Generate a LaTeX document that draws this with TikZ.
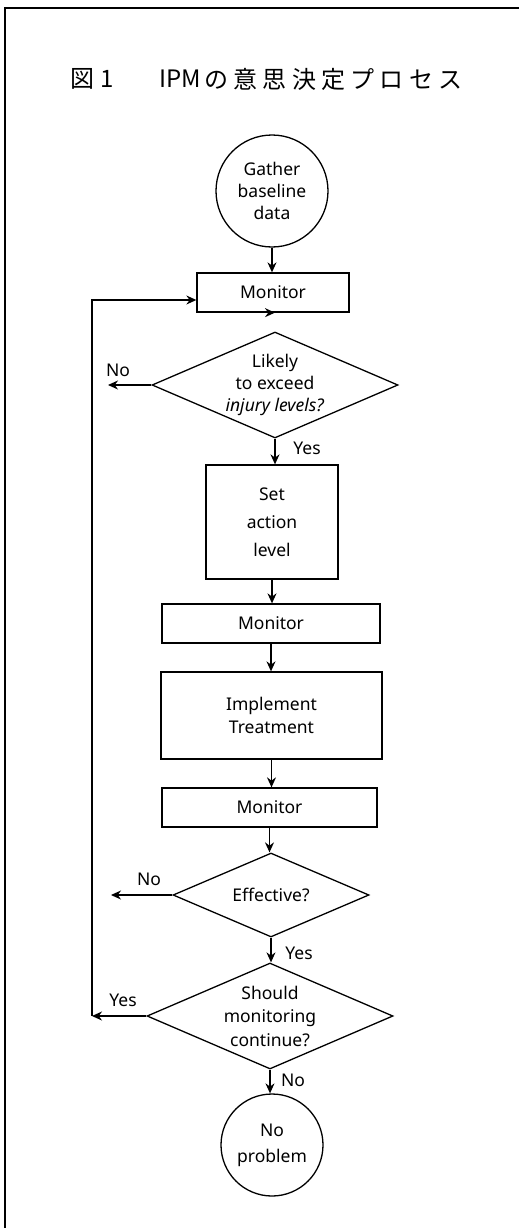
\documentclass[tikz,border=0pt]{standalone}
\usepackage{fontspec}
\setmainfont{Noto Sans}
\newfontfamily\cjk[LetterSpace=22]{Noto Sans CJK JP}
\newfontfamily\cjkplain{Noto Sans CJK JP}
\usetikzlibrary{shapes.geometric,arrows.meta}
\begin{document}
\begin{tikzpicture}[x=1pt,y=-1pt,
  every node/.style={font=\fontsize{17.5}{22}\selectfont},
  box/.style={draw,line width=1.3pt,rectangle,inner sep=0pt,align=center},
  rnd/.style={draw,line width=1.3pt,circle,inner sep=0pt,align=center},
  dia/.style={draw,line width=1.3pt,diamond,inner sep=0pt},
  txt/.style={inner sep=0pt,align=center},
  lab/.style={inner sep=0pt},
  arr/.style={line width=1.3pt,-{Stealth[length=10pt,width=9pt]}},
  ln/.style={line width=1.3pt}]
\useasboundingbox (0,0) rectangle (519,1228);
% frame
\draw[line width=1.3pt] (5,1228) -- (5,8) -- (519,8);
% title
\node[lab,anchor=west,font=\cjkplain\fontsize{24}{28}\selectfont] (t1) at (70,79) {図\hspace{6pt}1};
\node[lab,anchor=west,font=\cjkplain\fontsize{24}{28}\selectfont] (t2) at (159,79) {IPM};
\node[lab,anchor=west,font=\cjk\fontsize{24}{28}\selectfont] (t3) at (t2.east) {\hspace{3pt}の意思決定プロセス};
% nodes
\node[rnd,minimum size=112pt] (g) at (272,191) {Gather\\baseline\\data};
\node[box,minimum width=152pt,minimum height=39pt] (m1) at (273,292.5) {Monitor};
\node[dia,minimum width=246pt,minimum height=106pt] (d1) at (275,385) {};
\node[txt] (d1t) at (d1) {Likely\\to exceed\\\textit{injury levels?}};
\node[box,minimum width=132pt,minimum height=114pt,font=\fontsize{17.5}{28}\selectfont] (s) at (272,522) {Set\\action\\level};
\node[box,minimum width=218pt,minimum height=39pt] (m2) at (271,623.5) {Monitor};
\node[box,minimum width=221pt,minimum height=87pt,font=\fontsize{17.5}{23}\selectfont] (im) at (271.5,715.5) {Implement\\Treatment};
\node[box,minimum width=215pt,minimum height=39pt] (m3) at (269.5,807.5) {Monitor};
\node[dia,minimum width=196pt,minimum height=84pt] (d2) at (271,895) {};
\node[txt] (d2t) at (d2) {Effective?};
\node[dia,minimum width=246pt,minimum height=106pt] (d3) at (270,1016) {};
\node[txt,font=\fontsize{17.5}{23.5}\selectfont] (d3t) at (d3) {Should\\monitoring\\continue?};
\node[rnd,minimum size=102pt,font=\fontsize{17.5}{26}\selectfont] (np) at (272,1145) {No\\problem};
% labels
\node[lab] (l1) at (118,370) {No};
\node[lab] (l2) at (307,448) {Yes};
\node[lab] (l3) at (149,879) {No};
\node[lab] (l4) at (299,953) {Yes};
\node[lab] (l5) at (123,1000) {Yes};
\node[lab] (l6) at (293,1080) {No};
% coordinates
\coordinate (n1) at (108,385);
\coordinate (n2) at (111,895);
\coordinate (fbB) at (92,1016);
\coordinate (fbT) at (92,300);
% connectors
\draw[arr] (g.south) -- (g.south |- m1.north);
\draw[arr] (m1.south) -- (m1.south -| d1.north);
\draw[arr] (d1.south) -- (d1.south |- s.north);
\draw[arr] (s.south) -- (s.south |- m2.north);
\draw[arr] (m2.south) -- (m2.south |- im.north);
\draw[arr] (im.south) -- (im.south |- m3.north);
\draw[arr] (m3.south) -- (m3.south |- d2.north);
\draw[arr] (d2.south) -- (d2.south |- d3.north);
\draw[arr] (d3.south) -- (d3.south |- np.north);
\draw[arr] (d1.west) -- (n1);
\draw[arr] (d2.west) -- (n2);
\draw[arr] (d3.west) -- (fbB);
\draw[arr] (fbB) -- (fbT) -- (m1.west |- fbT);
\end{tikzpicture}
\end{document}
